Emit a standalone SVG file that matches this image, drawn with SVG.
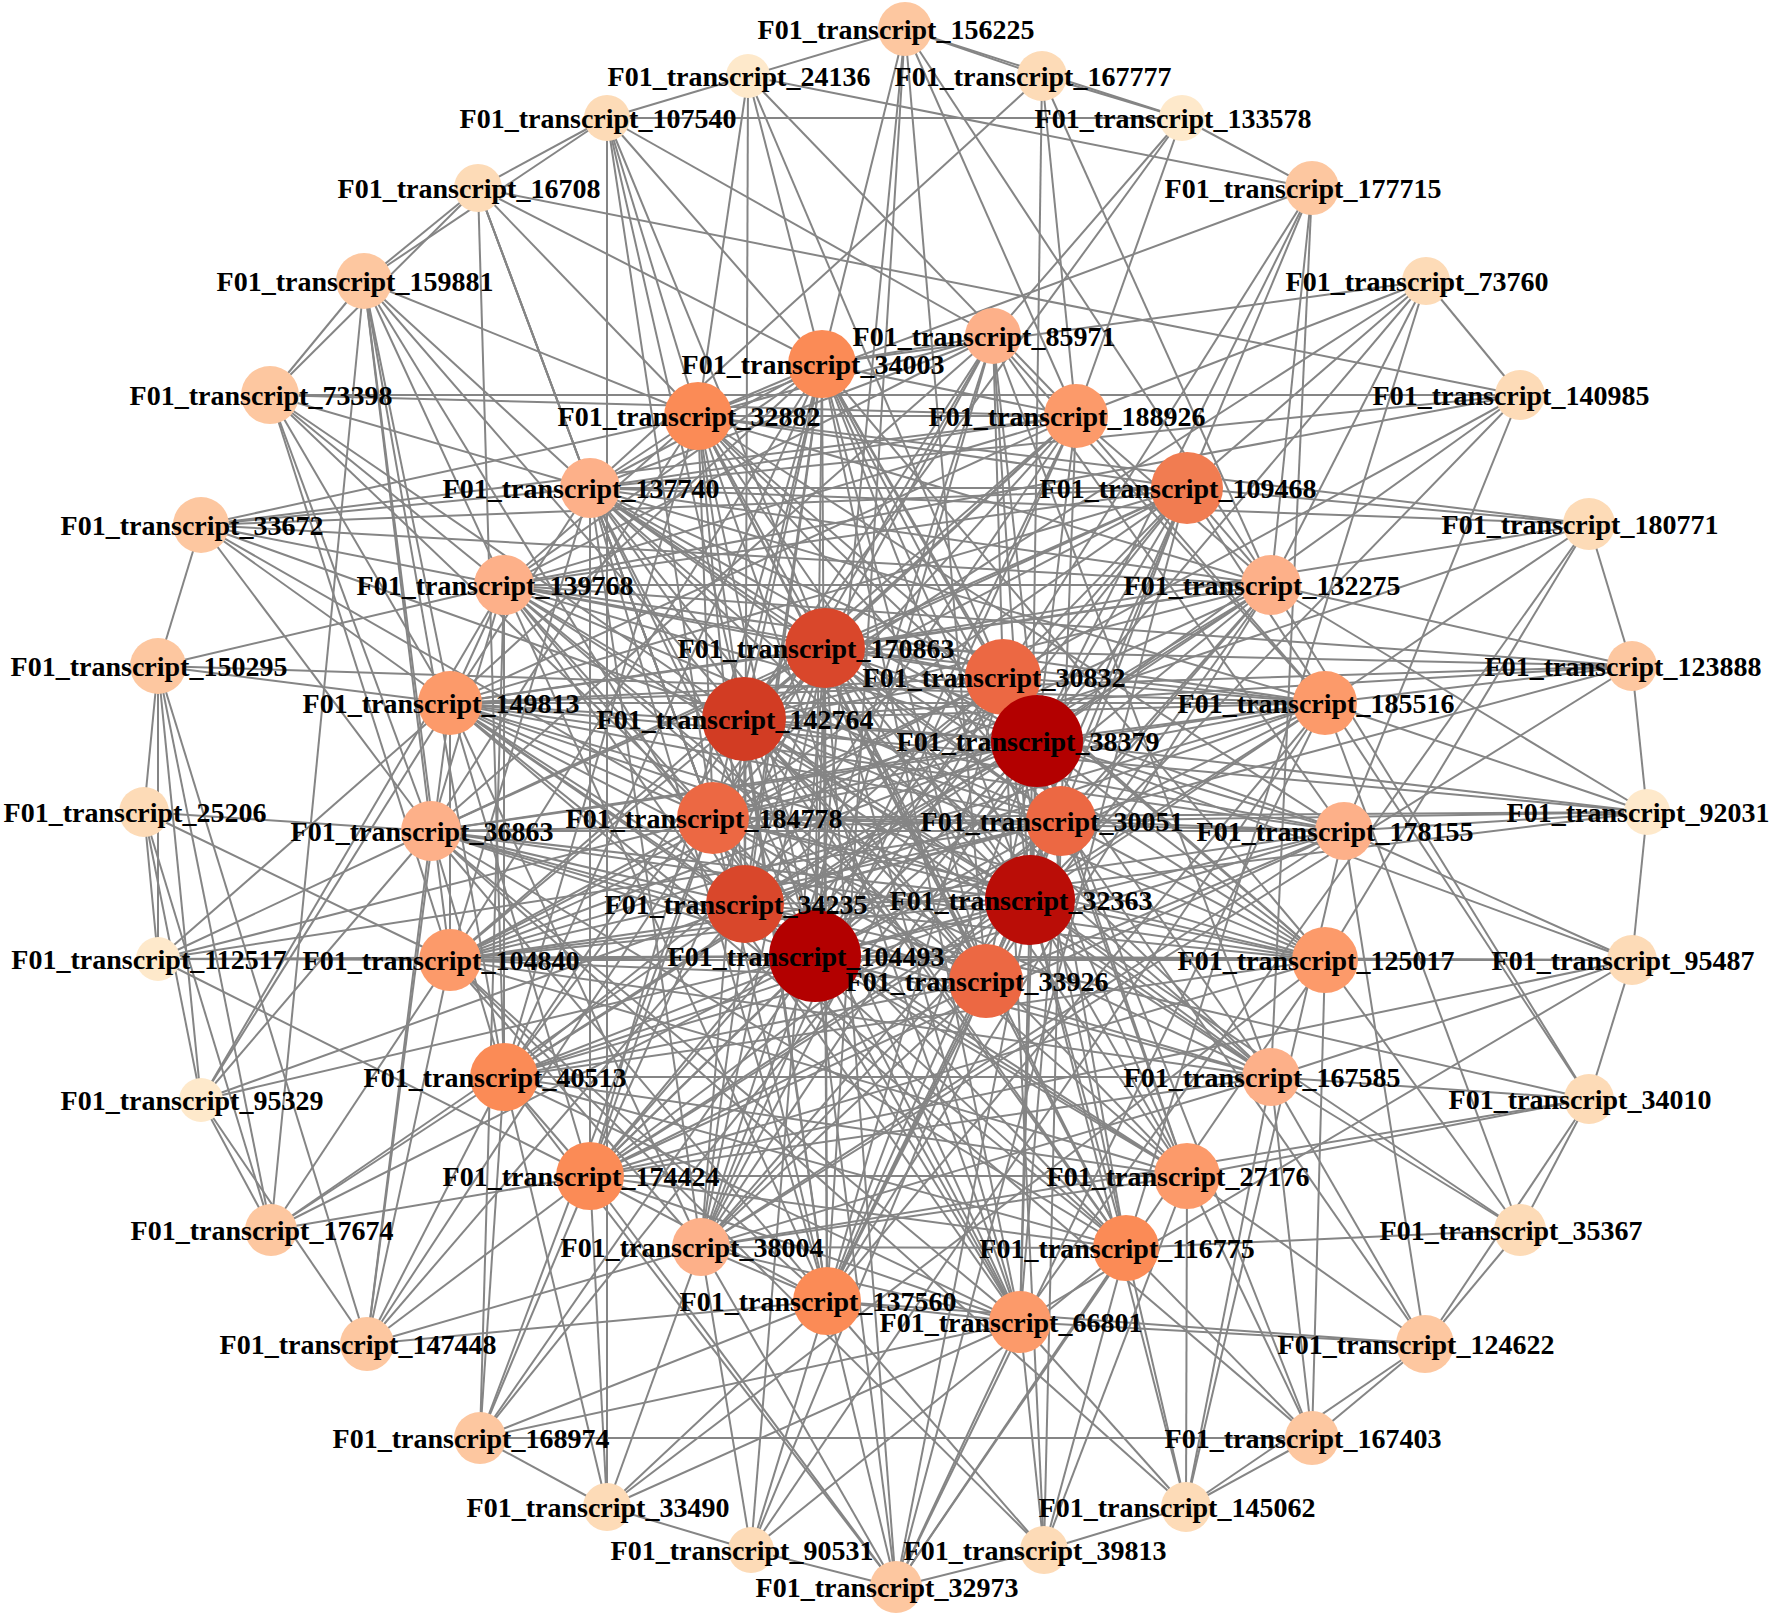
<svg xmlns="http://www.w3.org/2000/svg" width="1772" height="1618" viewBox="0 0 1772 1618">
<style>
.e path{stroke:#858585;stroke-width:2;fill:none}
text{font-family:"Liberation Serif","Times New Roman",serif;font-weight:bold;font-size:28px;text-anchor:middle;fill:#000}
.c1{fill:#fee9cb}.c2{fill:#fddbb7}.c3{fill:#fdc7a0}.c4{fill:#fdb089}.c5{fill:#fc9a6a}.c6{fill:#fb8b56}.c7{fill:#ec6843}.c7b{fill:#f17c51}.c8{fill:#d9472b}.c8b{fill:#d23c23}.c9{fill:#b30000}.c9b{fill:#ba0d07}
</style>
<rect width="1772" height="1618" fill="#fff"/>
<g id="edges" class="e">
<path d="M905 29L748 76"/><path d="M905 29L1042 76"/><path d="M905 29L1182 118"/><path d="M905 29L822 364"/><path d="M905 29L827 1301"/><path d="M905 29L986 981"/><path d="M905 29L1076 416"/><path d="M905 29L1271 585"/><path d="M905 29L815 956"/>
<path d="M1042 76L1182 118"/><path d="M1042 76L590 488"/><path d="M1042 76L1030 900"/><path d="M1042 76L1076 416"/><path d="M1042 76L1271 585"/>
<path d="M1182 118L607 118"/><path d="M1182 118L1312 188"/><path d="M1182 118L1076 416"/><path d="M1182 118L744 719"/><path d="M1182 118L993 336"/>
<path d="M1312 188L748 76"/><path d="M1312 188L1003 677"/><path d="M1312 188L1187 488"/><path d="M1312 188L1271 585"/><path d="M1312 188L1271 1077"/><path d="M1312 188L1037 741"/><path d="M1312 188L698 416"/>
<path d="M1426 281L1520 395"/><path d="M1426 281L1076 416"/><path d="M1426 281L744 719"/><path d="M1426 281L1037 741"/><path d="M1426 281L1187 488"/><path d="M1426 281L1126 1248"/><path d="M1426 281L822 364"/><path d="M1426 281L1271 585"/>
<path d="M1520 395L270 395"/><path d="M1520 395L590 488"/><path d="M1520 395L478 188"/><path d="M1520 395L1003 677"/><path d="M1520 395L1037 741"/><path d="M1520 395L1030 900"/><path d="M1520 395L1344 831"/><path d="M1520 395L504 585"/>
<path d="M1589 524L698 416"/><path d="M1589 524L590 488"/><path d="M1589 524L1632 666"/><path d="M1589 524L1187 488"/><path d="M1589 524L825 648"/><path d="M1589 524L713 818"/><path d="M1589 524L1325 703"/><path d="M1589 524L1325 960"/><path d="M1589 524L1020 1322"/>
<path d="M1632 666L1647 812"/><path d="M1632 666L450 703"/><path d="M1632 666L504 585"/><path d="M1632 666L744 719"/><path d="M1632 666L825 648"/><path d="M1632 666L1325 703"/><path d="M1632 666L1271 585"/><path d="M1632 666L745 904"/><path d="M1632 666L701 1247"/>
<path d="M1647 812L1632 960"/><path d="M1647 812L1344 831"/><path d="M1647 812L1325 703"/><path d="M1647 812L713 818"/><path d="M1647 812L450 703"/><path d="M1647 812L431 831"/><path d="M1647 812L1037 741"/><path d="M1647 812L1271 585"/><path d="M1647 812L450 960"/>
<path d="M1632 960L1589 1099"/><path d="M1632 960L1325 960"/><path d="M1632 960L1344 831"/><path d="M1632 960L1037 741"/><path d="M1632 960L815 956"/><path d="M1632 960L450 960"/><path d="M1632 960L590 1176"/><path d="M1632 960L1020 1322"/><path d="M1632 960L1271 1077"/>
<path d="M1589 1099L1520 1230"/><path d="M1589 1099L1425 1344"/><path d="M1589 1099L1187 1176"/><path d="M1589 1099L1271 1077"/><path d="M1589 1099L1271 585"/><path d="M1589 1099L1187 488"/><path d="M1589 1099L701 1247"/><path d="M1589 1099L745 904"/>
<path d="M1520 1230L1425 1344"/><path d="M1520 1230L1126 1248"/><path d="M1520 1230L1271 1077"/><path d="M1520 1230L1325 960"/><path d="M1520 1230L1030 900"/><path d="M1520 1230L1325 703"/>
<path d="M1425 1344L1312 1438"/><path d="M1425 1344L1186 1507"/><path d="M1425 1344L1187 1176"/><path d="M1425 1344L1271 1077"/><path d="M1425 1344L1020 1322"/><path d="M1425 1344L1344 831"/><path d="M1425 1344L1061 821"/><path d="M1425 1344L827 1301"/>
<path d="M1312 1438L1186 1507"/><path d="M1312 1438L480 1438"/><path d="M1312 1438L1325 960"/><path d="M1312 1438L1187 1176"/><path d="M1312 1438L1271 1077"/><path d="M1312 1438L1037 741"/><path d="M1312 1438L450 703"/><path d="M1312 1438L1126 1248"/>
<path d="M1186 1507L1044 1550"/><path d="M1186 1507L1271 1077"/><path d="M1186 1507L1187 1176"/><path d="M1186 1507L1126 1248"/><path d="M1186 1507L1020 1322"/><path d="M1186 1507L1030 900"/><path d="M1186 1507L431 831"/><path d="M1186 1507L1344 831"/>
<path d="M1044 1550L896 1587"/><path d="M1044 1550L1020 1322"/><path d="M1044 1550L1126 1248"/><path d="M1044 1550L1187 1176"/><path d="M1044 1550L827 1301"/><path d="M1044 1550L1003 677"/><path d="M1044 1550L450 960"/><path d="M1044 1550L1061 821"/>
<path d="M896 1587L751 1550"/><path d="M896 1587L827 1301"/><path d="M896 1587L701 1247"/><path d="M896 1587L1020 1322"/><path d="M896 1587L1126 1248"/><path d="M896 1587L815 956"/><path d="M896 1587L1030 900"/><path d="M896 1587L590 1176"/><path d="M896 1587L504 1077"/><path d="M896 1587L1325 703"/><path d="M896 1587L1325 960"/><path d="M896 1587L1187 488"/><path d="M896 1587L825 648"/>
<path d="M751 1550L607 1507"/><path d="M751 1550L701 1247"/><path d="M751 1550L827 1301"/><path d="M751 1550L986 981"/><path d="M751 1550L1126 1248"/><path d="M751 1550L1325 703"/><path d="M751 1550L825 648"/>
<path d="M607 1507L480 1438"/><path d="M607 1507L607 118"/><path d="M607 1507L701 1247"/><path d="M607 1507L827 1301"/><path d="M607 1507L1020 1322"/><path d="M607 1507L504 1077"/><path d="M607 1507L590 1176"/><path d="M607 1507L1325 960"/>
<path d="M480 1438L504 585"/><path d="M480 1438L504 1077"/><path d="M480 1438L590 1176"/><path d="M480 1438L827 1301"/><path d="M480 1438L815 956"/><path d="M480 1438L1020 1322"/><path d="M480 1438L713 818"/><path d="M480 1438L1037 741"/>
<path d="M367 1344L201 1100"/><path d="M367 1344L158 666"/><path d="M367 1344L431 831"/><path d="M367 1344L504 1077"/><path d="M367 1344L590 1176"/><path d="M367 1344L450 960"/><path d="M367 1344L450 703"/><path d="M367 1344L713 818"/><path d="M367 1344L745 904"/><path d="M367 1344L827 1301"/><path d="M367 1344L701 1247"/>
<path d="M271 1230L158 666"/><path d="M271 1230L201 1100"/><path d="M271 1230L144 812"/><path d="M271 1230L504 1077"/><path d="M271 1230L590 1176"/><path d="M271 1230L815 956"/><path d="M271 1230L745 904"/><path d="M271 1230L450 960"/>
<path d="M201 1100L158 666"/><path d="M201 1100L144 812"/><path d="M201 1100L745 904"/><path d="M201 1100L815 956"/><path d="M201 1100L450 703"/><path d="M201 1100L504 585"/><path d="M201 1100L431 831"/>
<path d="M158 959L158 666"/><path d="M158 959L144 812"/><path d="M158 959L450 960"/><path d="M158 959L431 831"/><path d="M158 959L450 703"/><path d="M158 959L713 818"/><path d="M158 959L815 956"/><path d="M158 959L1061 821"/><path d="M158 959L590 1176"/>
<path d="M144 812L158 666"/><path d="M144 812L431 831"/><path d="M144 812L450 960"/>
<path d="M158 666L201 525"/><path d="M158 666L504 585"/><path d="M158 666L1325 703"/><path d="M158 666L450 703"/>
<path d="M201 525L431 831"/><path d="M201 525L713 818"/><path d="M201 525L590 488"/><path d="M201 525L1076 416"/><path d="M201 525L1187 488"/><path d="M201 525L1271 585"/><path d="M201 525L504 585"/><path d="M201 525L744 719"/><path d="M201 525L698 416"/><path d="M201 525L450 703"/>
<path d="M270 395L364 281"/><path d="M270 395L478 188"/><path d="M270 395L1076 416"/><path d="M270 395L431 831"/><path d="M270 395L450 703"/><path d="M270 395L504 585"/><path d="M270 395L590 488"/><path d="M270 395L713 818"/><path d="M270 395L450 960"/><path d="M270 395L744 719"/>
<path d="M364 281L478 188"/><path d="M364 281L607 118"/><path d="M364 281L271 1230"/><path d="M364 281L590 488"/><path d="M364 281L504 585"/><path d="M364 281L450 703"/><path d="M364 281L431 831"/><path d="M364 281L698 416"/><path d="M364 281L744 719"/><path d="M364 281L450 960"/><path d="M364 281L504 1077"/><path d="M364 281L745 904"/>
<path d="M478 188L607 118"/><path d="M478 188L504 1077"/><path d="M478 188L590 488"/><path d="M478 188L698 416"/><path d="M478 188L713 818"/><path d="M478 188L745 904"/><path d="M478 188L822 364"/>
<path d="M607 118L748 76"/><path d="M607 118L713 818"/><path d="M607 118L744 719"/><path d="M607 118L825 648"/><path d="M607 118L993 336"/><path d="M607 118L822 364"/><path d="M607 118L698 416"/>
<path d="M748 76L745 904"/><path d="M748 76L698 416"/><path d="M748 76L822 364"/><path d="M748 76L1003 677"/><path d="M748 76L1076 416"/>
<path d="M993 336L825 648"/><path d="M993 336L1003 677"/><path d="M993 336L1037 741"/><path d="M993 336L1030 900"/><path d="M993 336L815 956"/><path d="M993 336L713 818"/><path d="M993 336L744 719"/>
<path d="M1076 416L825 648"/><path d="M1076 416L1037 741"/><path d="M1076 416L1061 821"/><path d="M1076 416L815 956"/><path d="M1076 416L745 904"/><path d="M1076 416L713 818"/><path d="M1076 416L744 719"/>
<path d="M1187 488L825 648"/><path d="M1187 488L1003 677"/><path d="M1187 488L1037 741"/><path d="M1187 488L1030 900"/><path d="M1187 488L986 981"/><path d="M1187 488L815 956"/><path d="M1187 488L713 818"/><path d="M1187 488L744 719"/>
<path d="M1271 585L825 648"/><path d="M1271 585L1037 741"/><path d="M1271 585L1061 821"/><path d="M1271 585L986 981"/><path d="M1271 585L815 956"/><path d="M1271 585L745 904"/><path d="M1271 585L744 719"/>
<path d="M1325 703L825 648"/><path d="M1325 703L1003 677"/><path d="M1325 703L1037 741"/><path d="M1325 703L1030 900"/><path d="M1325 703L815 956"/><path d="M1325 703L745 904"/><path d="M1325 703L713 818"/><path d="M1325 703L744 719"/>
<path d="M1344 831L825 648"/><path d="M1344 831L1037 741"/><path d="M1344 831L1061 821"/><path d="M1344 831L986 981"/><path d="M1344 831L815 956"/><path d="M1344 831L713 818"/><path d="M1344 831L744 719"/>
<path d="M1325 960L1003 677"/><path d="M1325 960L1037 741"/><path d="M1325 960L1061 821"/><path d="M1325 960L1030 900"/><path d="M1325 960L815 956"/><path d="M1325 960L745 904"/><path d="M1325 960L713 818"/><path d="M1325 960L744 719"/>
<path d="M1271 1077L825 648"/><path d="M1271 1077L1037 741"/><path d="M1271 1077L1030 900"/><path d="M1271 1077L815 956"/><path d="M1271 1077L713 818"/><path d="M1271 1077L744 719"/>
<path d="M1187 1176L825 648"/><path d="M1187 1176L1037 741"/><path d="M1187 1176L1061 821"/><path d="M1187 1176L1030 900"/><path d="M1187 1176L815 956"/><path d="M1187 1176L745 904"/><path d="M1187 1176L744 719"/>
<path d="M1126 1248L825 648"/><path d="M1126 1248L1003 677"/><path d="M1126 1248L1037 741"/><path d="M1126 1248L1030 900"/><path d="M1126 1248L745 904"/><path d="M1126 1248L713 818"/><path d="M1126 1248L744 719"/>
<path d="M1020 1322L825 648"/><path d="M1020 1322L1037 741"/><path d="M1020 1322L1061 821"/><path d="M1020 1322L1030 900"/><path d="M1020 1322L815 956"/><path d="M1020 1322L713 818"/><path d="M1020 1322L744 719"/>
<path d="M827 1301L825 648"/><path d="M827 1301L1003 677"/><path d="M827 1301L1037 741"/><path d="M827 1301L1061 821"/><path d="M827 1301L1030 900"/><path d="M827 1301L986 981"/><path d="M827 1301L713 818"/><path d="M827 1301L744 719"/>
<path d="M701 1247L825 648"/><path d="M701 1247L1003 677"/><path d="M701 1247L1037 741"/><path d="M701 1247L1030 900"/><path d="M701 1247L986 981"/><path d="M701 1247L815 956"/><path d="M701 1247L744 719"/>
<path d="M590 1176L825 648"/><path d="M590 1176L1003 677"/><path d="M590 1176L1037 741"/><path d="M590 1176L1061 821"/><path d="M590 1176L1030 900"/><path d="M590 1176L986 981"/><path d="M590 1176L815 956"/><path d="M590 1176L713 818"/>
<path d="M504 1077L825 648"/><path d="M504 1077L1003 677"/><path d="M504 1077L1037 741"/><path d="M504 1077L1030 900"/><path d="M504 1077L986 981"/><path d="M504 1077L815 956"/><path d="M504 1077L744 719"/>
<path d="M450 960L825 648"/><path d="M450 960L1003 677"/><path d="M450 960L1037 741"/><path d="M450 960L1061 821"/><path d="M450 960L1030 900"/><path d="M450 960L986 981"/><path d="M450 960L815 956"/><path d="M450 960L713 818"/>
<path d="M431 831L825 648"/><path d="M431 831L1037 741"/><path d="M431 831L1030 900"/><path d="M431 831L986 981"/><path d="M431 831L815 956"/><path d="M431 831L745 904"/>
<path d="M450 703L825 648"/><path d="M450 703L1003 677"/><path d="M450 703L1037 741"/><path d="M450 703L1061 821"/><path d="M450 703L1030 900"/><path d="M450 703L986 981"/><path d="M450 703L815 956"/><path d="M450 703L745 904"/><path d="M450 703L713 818"/>
<path d="M504 585L825 648"/><path d="M504 585L1003 677"/><path d="M504 585L1037 741"/><path d="M504 585L1061 821"/><path d="M504 585L1030 900"/><path d="M504 585L986 981"/><path d="M504 585L815 956"/><path d="M504 585L713 818"/>
<path d="M590 488L825 648"/><path d="M590 488L1003 677"/><path d="M590 488L1037 741"/><path d="M590 488L1061 821"/><path d="M590 488L1030 900"/><path d="M590 488L986 981"/><path d="M590 488L815 956"/><path d="M590 488L745 904"/><path d="M590 488L713 818"/>
<path d="M698 416L825 648"/><path d="M698 416L1037 741"/><path d="M698 416L1061 821"/><path d="M698 416L1030 900"/><path d="M698 416L986 981"/><path d="M698 416L815 956"/><path d="M698 416L745 904"/><path d="M698 416L713 818"/>
<path d="M822 364L1003 677"/><path d="M822 364L1037 741"/><path d="M822 364L1061 821"/><path d="M822 364L1030 900"/><path d="M822 364L986 981"/><path d="M822 364L815 956"/><path d="M822 364L745 904"/><path d="M822 364L713 818"/><path d="M822 364L744 719"/>
<path d="M993 336L698 416"/><path d="M993 336L590 488"/><path d="M993 336L504 585"/><path d="M993 336L431 831"/><path d="M993 336L1344 831"/><path d="M993 336L1325 703"/><path d="M993 336L1271 1077"/><path d="M993 336L701 1247"/><path d="M993 336L822 364"/>
<path d="M1076 416L590 488"/><path d="M1076 416L504 585"/><path d="M1076 416L450 703"/><path d="M1076 416L698 416"/><path d="M1076 416L822 364"/><path d="M1076 416L450 960"/><path d="M1076 416L701 1247"/><path d="M1076 416L1325 703"/><path d="M1076 416L1271 585"/>
<path d="M1187 488L590 488"/><path d="M1187 488L698 416"/><path d="M1187 488L504 585"/><path d="M1187 488L450 703"/><path d="M1187 488L431 831"/><path d="M1187 488L590 1176"/><path d="M1187 488L827 1301"/><path d="M1187 488L1271 585"/>
<path d="M1271 585L590 488"/><path d="M1271 585L504 585"/><path d="M1271 585L450 703"/><path d="M1271 585L450 960"/><path d="M1271 585L504 1077"/><path d="M1271 585L701 1247"/><path d="M1271 585L827 1301"/><path d="M1271 585L698 416"/>
<path d="M1325 703L504 585"/><path d="M1325 703L450 703"/><path d="M1325 703L431 831"/><path d="M1325 703L450 960"/><path d="M1325 703L590 1176"/><path d="M1325 703L827 1301"/><path d="M1325 703L590 488"/>
<path d="M1344 831L450 703"/><path d="M1344 831L431 831"/><path d="M1344 831L450 960"/><path d="M1344 831L504 1077"/><path d="M1344 831L590 1176"/><path d="M1344 831L701 1247"/><path d="M1344 831L698 416"/>
<path d="M1325 960L450 703"/><path d="M1325 960L431 831"/><path d="M1325 960L450 960"/><path d="M1325 960L504 1077"/><path d="M1325 960L590 1176"/><path d="M1325 960L590 488"/><path d="M1325 960L698 416"/><path d="M1325 960L822 364"/>
<path d="M1271 1077L431 831"/><path d="M1271 1077L450 960"/><path d="M1271 1077L504 1077"/><path d="M1271 1077L590 1176"/><path d="M1271 1077L701 1247"/><path d="M1271 1077L504 585"/><path d="M1271 1077L590 488"/>
<path d="M1187 1176L450 960"/><path d="M1187 1176L504 1077"/><path d="M1187 1176L590 1176"/><path d="M1187 1176L701 1247"/><path d="M1187 1176L450 703"/><path d="M1187 1176L504 585"/><path d="M1187 1176L822 364"/>
<path d="M1126 1248L504 1077"/><path d="M1126 1248L590 1176"/><path d="M1126 1248L450 703"/><path d="M1126 1248L431 831"/><path d="M1126 1248L590 488"/><path d="M1126 1248L698 416"/><path d="M1126 1248L701 1247"/>
<path d="M1020 1322L590 1176"/><path d="M1020 1322L504 1077"/><path d="M1020 1322L431 831"/><path d="M1020 1322L504 585"/><path d="M1020 1322L590 488"/><path d="M1020 1322L698 416"/><path d="M1020 1322L822 364"/><path d="M1020 1322L701 1247"/><path d="M1020 1322L827 1301"/>
<path d="M827 1301L590 1176"/><path d="M827 1301L450 960"/><path d="M827 1301L431 831"/><path d="M827 1301L504 585"/><path d="M827 1301L590 488"/><path d="M827 1301L698 416"/><path d="M827 1301L822 364"/><path d="M827 1301L701 1247"/>
<path d="M701 1247L450 960"/><path d="M701 1247L450 703"/><path d="M701 1247L590 488"/><path d="M701 1247L822 364"/>
<path d="M590 1176L450 703"/><path d="M590 1176L590 488"/><path d="M590 1176L822 364"/><path d="M590 1176L504 1077"/>
<path d="M504 1077L431 831"/><path d="M504 1077L504 585"/><path d="M504 1077L698 416"/><path d="M504 1077L822 364"/>
<path d="M450 960L450 703"/><path d="M450 960L590 488"/><path d="M450 960L822 364"/>
<path d="M431 831L504 585"/><path d="M431 831L698 416"/>
<path d="M450 703L590 488"/><path d="M450 703L822 364"/><path d="M450 703L504 585"/>
<path d="M504 585L698 416"/><path d="M504 585L822 364"/><path d="M590 488L822 364"/><path d="M590 488L698 416"/><path d="M698 416L822 364"/>
<path d="M825 648L1003 677"/><path d="M825 648L1037 741"/><path d="M825 648L1061 821"/><path d="M825 648L1030 900"/><path d="M825 648L986 981"/><path d="M825 648L815 956"/><path d="M825 648L745 904"/><path d="M825 648L713 818"/><path d="M825 648L744 719"/>
<path d="M1003 677L1061 821"/><path d="M1003 677L1030 900"/><path d="M1003 677L815 956"/><path d="M1003 677L745 904"/><path d="M1003 677L713 818"/><path d="M1003 677L744 719"/>
<path d="M1037 741L1030 900"/><path d="M1037 741L986 981"/><path d="M1037 741L815 956"/><path d="M1037 741L745 904"/><path d="M1037 741L713 818"/><path d="M1037 741L744 719"/>
<path d="M1061 821L986 981"/><path d="M1061 821L815 956"/><path d="M1061 821L745 904"/><path d="M1061 821L713 818"/><path d="M1061 821L744 719"/>
<path d="M1030 900L815 956"/><path d="M1030 900L745 904"/><path d="M1030 900L713 818"/><path d="M1030 900L744 719"/>
<path d="M986 981L745 904"/><path d="M986 981L713 818"/><path d="M986 981L744 719"/>
<path d="M815 956L713 818"/><path d="M815 956L744 719"/><path d="M745 904L744 719"/>
</g>
<g id="nodes">
<g id="n156225"><circle class="c3" cx="905" cy="29" r="27"/><text x="896" y="39">F01_transcript_156225</text></g>
<g id="n167777"><circle class="c2" cx="1042" cy="76" r="25"/><text x="1033" y="86">F01_transcript_167777</text></g>
<g id="n133578"><circle class="c1" cx="1182" cy="118" r="23"/><text x="1173" y="128">F01_transcript_133578</text></g>
<g id="n177715"><circle class="c3" cx="1312" cy="188" r="27"/><text x="1303" y="198">F01_transcript_177715</text></g>
<g id="n73760"><circle class="c2" cx="1426" cy="281" r="24"/><text x="1417" y="291">F01_transcript_73760</text></g>
<g id="n140985"><circle class="c2" cx="1520" cy="395" r="25"/><text x="1511" y="405">F01_transcript_140985</text></g>
<g id="n180771"><circle class="c2" cx="1589" cy="524" r="26"/><text x="1580" y="534">F01_transcript_180771</text></g>
<g id="n123888"><circle class="c3" cx="1632" cy="666" r="25"/><text x="1623" y="676">F01_transcript_123888</text></g>
<g id="n92031"><circle class="c1" cx="1647" cy="812" r="23"/><text x="1638" y="822">F01_transcript_92031</text></g>
<g id="n95487"><circle class="c2" cx="1632" cy="960" r="25"/><text x="1623" y="970">F01_transcript_95487</text></g>
<g id="n34010"><circle class="c2" cx="1589" cy="1099" r="25"/><text x="1580" y="1109">F01_transcript_34010</text></g>
<g id="n35367"><circle class="c2" cx="1520" cy="1230" r="26"/><text x="1511" y="1240">F01_transcript_35367</text></g>
<g id="n124622"><circle class="c3" cx="1425" cy="1344" r="29"/><text x="1416" y="1354">F01_transcript_124622</text></g>
<g id="n167403"><circle class="c3" cx="1312" cy="1438" r="27"/><text x="1303" y="1448">F01_transcript_167403</text></g>
<g id="n145062"><circle class="c2" cx="1186" cy="1507" r="25"/><text x="1177" y="1517">F01_transcript_145062</text></g>
<g id="n39813"><circle class="c2" cx="1044" cy="1550" r="24"/><text x="1035" y="1560">F01_transcript_39813</text></g>
<g id="n32973"><circle class="c3" cx="896" cy="1587" r="26"/><text x="887" y="1597">F01_transcript_32973</text></g>
<g id="n90531"><circle class="c2" cx="751" cy="1550" r="23"/><text x="742" y="1560">F01_transcript_90531</text></g>
<g id="n33490"><circle class="c2" cx="607" cy="1507" r="24"/><text x="598" y="1517">F01_transcript_33490</text></g>
<g id="n168974"><circle class="c3" cx="480" cy="1438" r="26"/><text x="471" y="1448">F01_transcript_168974</text></g>
<g id="n147448"><circle class="c3" cx="367" cy="1344" r="27"/><text x="358" y="1354">F01_transcript_147448</text></g>
<g id="n17674"><circle class="c3" cx="271" cy="1230" r="26"/><text x="262" y="1240">F01_transcript_17674</text></g>
<g id="n95329"><circle class="c1" cx="201" cy="1100" r="22"/><text x="192" y="1110">F01_transcript_95329</text></g>
<g id="n112517"><circle class="c1" cx="158" cy="959" r="22"/><text x="149" y="969">F01_transcript_112517</text></g>
<g id="n25206"><circle class="c2" cx="144" cy="812" r="25"/><text x="135" y="822">F01_transcript_25206</text></g>
<g id="n150295"><circle class="c3" cx="158" cy="666" r="28"/><text x="149" y="676">F01_transcript_150295</text></g>
<g id="n33672"><circle class="c3" cx="201" cy="525" r="28"/><text x="192" y="535">F01_transcript_33672</text></g>
<g id="n73398"><circle class="c3" cx="270" cy="395" r="29"/><text x="261" y="405">F01_transcript_73398</text></g>
<g id="n159881"><circle class="c3" cx="364" cy="281" r="28"/><text x="355" y="291">F01_transcript_159881</text></g>
<g id="n16708"><circle class="c2" cx="478" cy="188" r="24"/><text x="469" y="198">F01_transcript_16708</text></g>
<g id="n107540"><circle class="c2" cx="607" cy="118" r="23"/><text x="598" y="128">F01_transcript_107540</text></g>
<g id="n24136"><circle class="c1" cx="748" cy="76" r="22"/><text x="739" y="86">F01_transcript_24136</text></g>
<g id="n85971"><circle class="c4" cx="993" cy="336" r="28"/><text x="984" y="346">F01_transcript_85971</text></g>
<g id="n188926"><circle class="c5" cx="1076" cy="416" r="32"/><text x="1067" y="426">F01_transcript_188926</text></g>
<g id="n109468"><circle class="c7b" cx="1187" cy="488" r="36"/><text x="1178" y="498">F01_transcript_109468</text></g>
<g id="n132275"><circle class="c4" cx="1271" cy="585" r="30"/><text x="1262" y="595">F01_transcript_132275</text></g>
<g id="n185516"><circle class="c5" cx="1325" cy="703" r="32"/><text x="1316" y="713">F01_transcript_185516</text></g>
<g id="n178155"><circle class="c4" cx="1344" cy="831" r="29"/><text x="1335" y="841">F01_transcript_178155</text></g>
<g id="n125017"><circle class="c5" cx="1325" cy="960" r="33"/><text x="1316" y="970">F01_transcript_125017</text></g>
<g id="n167585"><circle class="c4" cx="1271" cy="1077" r="29"/><text x="1262" y="1087">F01_transcript_167585</text></g>
<g id="n27176"><circle class="c5" cx="1187" cy="1176" r="33"/><text x="1178" y="1186">F01_transcript_27176</text></g>
<g id="n116775"><circle class="c6" cx="1126" cy="1248" r="33"/><text x="1117" y="1258">F01_transcript_116775</text></g>
<g id="n66801"><circle class="c5" cx="1020" cy="1322" r="31"/><text x="1011" y="1332">F01_transcript_66801</text></g>
<g id="n137560"><circle class="c6" cx="827" cy="1301" r="34"/><text x="818" y="1311">F01_transcript_137560</text></g>
<g id="n38004"><circle class="c4" cx="701" cy="1247" r="29"/><text x="692" y="1257">F01_transcript_38004</text></g>
<g id="n174424"><circle class="c6" cx="590" cy="1176" r="34"/><text x="581" y="1186">F01_transcript_174424</text></g>
<g id="n40513"><circle class="c6" cx="504" cy="1077" r="34"/><text x="495" y="1087">F01_transcript_40513</text></g>
<g id="n104840"><circle class="c5" cx="450" cy="960" r="31"/><text x="441" y="970">F01_transcript_104840</text></g>
<g id="n36863"><circle class="c4" cx="431" cy="831" r="30"/><text x="422" y="841">F01_transcript_36863</text></g>
<g id="n149813"><circle class="c5" cx="450" cy="703" r="32"/><text x="441" y="713">F01_transcript_149813</text></g>
<g id="n139768"><circle class="c4" cx="504" cy="585" r="30"/><text x="495" y="595">F01_transcript_139768</text></g>
<g id="n137740"><circle class="c4" cx="590" cy="488" r="30"/><text x="581" y="498">F01_transcript_137740</text></g>
<g id="n32882"><circle class="c6" cx="698" cy="416" r="34"/><text x="689" y="426">F01_transcript_32882</text></g>
<g id="n34003"><circle class="c6" cx="822" cy="364" r="34"/><text x="813" y="374">F01_transcript_34003</text></g>
<g id="n170863"><circle class="c8" cx="825" cy="648" r="40"/><text x="816" y="658">F01_transcript_170863</text></g>
<g id="n30832"><circle class="c7" cx="1003" cy="677" r="38"/><text x="994" y="687">F01_transcript_30832</text></g>
<g id="n142764"><circle class="c8b" cx="744" cy="719" r="42"/><text x="735" y="729">F01_transcript_142764</text></g>
<g id="n184778"><circle class="c7" cx="713" cy="818" r="36"/><text x="704" y="828">F01_transcript_184778</text></g>
<g id="n38379"><circle class="c9" cx="1037" cy="741" r="46"/><text x="1028" y="751">F01_transcript_38379</text></g>
<g id="n30051"><circle class="c7" cx="1061" cy="821" r="35"/><text x="1052" y="831">F01_transcript_30051</text></g>
<g id="n32363"><circle class="c9b" cx="1030" cy="900" r="45"/><text x="1021" y="910">F01_transcript_32363</text></g>
<g id="n104493"><circle class="c9" cx="815" cy="956" r="46"/><text x="806" y="966">F01_transcript_104493</text></g>
<g id="n34235"><circle class="c8" cx="745" cy="904" r="39"/><text x="736" y="914">F01_transcript_34235</text></g>
<g id="n33926"><circle class="c7" cx="986" cy="981" r="37"/><text x="977" y="991">F01_transcript_33926</text></g>
</g>
</svg>
